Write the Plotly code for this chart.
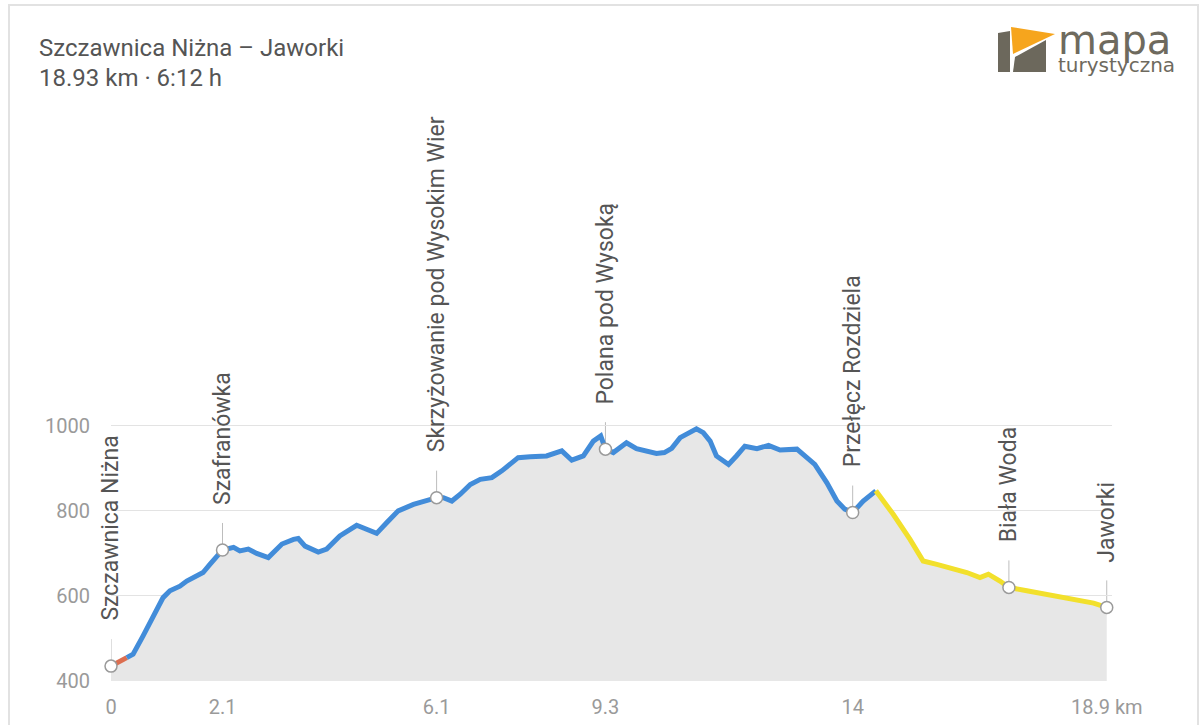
import plotly.graph_objects as go

W, H = 1201, 725

# ---------------- data ----------------
TITLE = "Szczawnica Niżna – Jaworki"
SUBTITLE = "18.93 km · 6:12 h"
LOGO_TOP = "mapa"
LOGO_BOTTOM = "turystyczna"

km = [0.00, 0.30, 0.42, 0.61, 0.80, 0.99, 1.12, 1.31, 1.44, 1.63, 1.75, 1.88, 2.12,
      2.33, 2.45, 2.61, 2.77, 2.99, 3.06, 3.25, 3.47, 3.56, 3.69, 3.94, 4.10, 4.35,
      4.67, 4.86, 5.05, 5.24, 5.46, 5.75, 6.00, 6.19, 6.32, 6.48, 6.64, 6.83, 7.02,
      7.24, 7.43, 7.74, 7.97, 8.28, 8.57, 8.76, 8.98, 9.17, 9.31, 9.40, 9.55, 9.80,
      9.99, 10.18, 10.37, 10.52, 10.66, 10.82, 10.98, 11.13, 11.26, 11.39, 11.51,
      11.74, 11.89, 12.05, 12.28, 12.50, 12.72, 13.04, 13.23, 13.38, 13.61, 13.80,
      13.95, 14.10, 14.30, 14.54, 14.87, 15.19, 15.44, 15.70, 15.95, 16.27, 16.52,
      16.68, 16.90, 17.07, 17.41, 17.73, 18.04, 18.36, 18.68, 18.93]
elev = [435, 455, 463, 506, 553, 596, 612, 623, 635, 647, 655, 674, 708,
        714, 706, 710, 700, 690, 698, 722, 733, 735, 717, 703, 710, 741,
        766, 757, 747, 772, 800, 815, 825, 831, 831, 823, 839, 862, 874,
        878, 894, 925, 927, 929, 941, 919, 929, 964, 976, 945, 937, 960,
        946, 941, 935, 937, 947, 972, 984, 993, 984, 964, 929,
        909, 929, 952, 946, 954, 943, 945, 925, 909, 866, 823,
        804, 796, 823, 847, 792, 733, 682, 674, 666, 655, 643,
        651, 635, 620, 612, 604, 596, 588, 583, 573]

# coloured trail segments: (start km, end km, colour)
seg_start = [0.00, 0.30, 14.54]
seg_end = [0.30, 14.54, 18.93]
seg_color = ["#dc6e50", "#428cd9", "#f2e02c"]

wp_name = ["Szczawnica Niżna", "Szafranówka", "Skrzyżowanie pod Wysokim Wier",
           "Polana pod Wysoką", "Przełęcz Rozdziela", "Biała Woda", "Jaworki"]
wp_km = [0.00, 2.12, 6.19, 9.40, 14.10, 17.07, 18.93]
wp_elev = [435, 708, 831, 945, 796, 620, 573]

tick_km = [0.00, 2.12, 6.19, 9.40, 14.10, 18.93]
tick_text = ["0", "2.1", "6.1", "9.3", "14", "18.9 km"]
y_ticks = [400, 600, 800, 1000]

# ---------------- geometry ----------------
PX_PER_M = 0.4254
Y_BOTTOM_PX = 681
Y_TOP_PX = 90
X_LEFT_PX, X_RIGHT_PX = 111, 1112
X_MAX = 19.03
y_max = 400 + (Y_BOTTOM_PX - Y_TOP_PX) / PX_PER_M
CONNECT_M = 27 / PX_PER_M

FONT = "Roboto"

fig = go.Figure()

# grey area under profile
fig.add_trace(go.Scatter(x=km, y=elev, mode="lines", line=dict(width=0),
                         fill="tozeroy", fillcolor="#e7e7e7", hoverinfo="skip",
                         showlegend=False))

# coloured segments
for s, e, c in zip(seg_start, seg_end, seg_color):
    xs = [k for k in km if s - 1e-9 <= k <= e + 1e-9]
    ys = [v for k, v in zip(km, elev) if s - 1e-9 <= k <= e + 1e-9]
    fig.add_trace(go.Scatter(x=xs, y=ys, mode="lines",
                             line=dict(color=c, width=5, shape="linear"),
                             showlegend=False, cliponaxis=False))

shapes = []
annotations = []
interior_ticks = set(tick_km[1:-1])
for name, k, e in zip(wp_name, wp_km, wp_elev):
    y0 = 400 if k in interior_ticks else e
    shapes.append(dict(type="line", xref="x", yref="y", x0=k, x1=k, y0=y0,
                       y1=e + CONNECT_M, line=dict(color="#bdbdbd", width=1),
                       layer="below"))
    annotations.append(dict(x=k, y=e, xref="x", yref="y", text=name, showarrow=False,
                            textangle=-90, xanchor="center", yanchor="bottom",
                            yshift=43, font=dict(family=FONT, size=23, color="#555555")))

# waypoint markers
fig.add_trace(go.Scatter(x=wp_km, y=wp_elev, mode="markers",
                         marker=dict(size=12, color="white",
                                     line=dict(color="#9a9a9a", width=1.5)),
                         showlegend=False, cliponaxis=False))

# card border
shapes.append(dict(type="rect", xref="paper", yref="paper", x0=9 / W, x1=1198 / W,
                   y0=-0.02, y1=1 - 5 / H, line=dict(color="#e2e2e2", width=2),
                   layer="below"))


def px(x):
    return x / W


def py(y):
    return 1 - y / H


# logo icon
def path(pts):
    return "M " + " L ".join(f"{px(a)},{py(b)}" for a, b in pts) + " Z"


shapes.append(dict(type="path", xref="paper", yref="paper",
                   path=path([(998, 33), (1010, 31), (1010, 72), (998, 72)]),
                   fillcolor="#6c685c", line=dict(width=0)))
shapes.append(dict(type="path", xref="paper", yref="paper",
                   path=path([(1015, 57), (1046, 40), (1046, 72), (1013, 72)]),
                   fillcolor="#6c685c", line=dict(width=0)))
shapes.append(dict(type="path", xref="paper", yref="paper",
                   path=path([(1011, 27), (1055, 34), (1013, 54)]),
                   fillcolor="#f6a51d", line=dict(width=0)))

logo_text = (f"<span style='font-size:40px'>{LOGO_TOP}</span><br>"
             f"<span style='font-size:20px'>{LOGO_BOTTOM}</span>")

annotations += [
    dict(x=px(37), y=py(48), xref="paper", yref="paper", text=TITLE, showarrow=False,
         xanchor="left", yanchor="middle",
         font=dict(family=FONT, size=24, color="#555555")),
    dict(x=px(37), y=py(78), xref="paper", yref="paper", text=SUBTITLE, showarrow=False,
         xanchor="left", yanchor="middle",
         font=dict(family=FONT, size=24, color="#555555")),
    dict(x=px(1056), y=py(47), xref="paper", yref="paper", text=logo_text,
         showarrow=False, xanchor="left", yanchor="middle", align="left",
         font=dict(family="DejaVu Sans", size=14, color="#6e6a5e")),
]

fig.update_layout(
    width=W, height=H,
    margin=dict(l=0, r=0, t=0, b=0),
    paper_bgcolor="white", plot_bgcolor="white",
    shapes=shapes, annotations=annotations,
    xaxis=dict(domain=[X_LEFT_PX / W, X_RIGHT_PX / W], range=[0, X_MAX],
               tickvals=tick_km, ticktext=tick_text, showgrid=False, zeroline=False,
               showline=False, ticks="", ticklabelstandoff=12, automargin=False,
               tickfont=dict(family=FONT, size=20, color="#9a9a9a")),
    yaxis=dict(domain=[(H - Y_BOTTOM_PX) / H, (H - Y_TOP_PX) / H], range=[400, y_max],
               tickvals=y_ticks, showgrid=True, gridcolor="#e3e3e3", gridwidth=1,
               zeroline=False, showline=False, ticks="", ticklabelstandoff=20,
               automargin=False,
               tickfont=dict(family=FONT, size=20, color="#9a9a9a")),
    showlegend=False,
)

fig.write_html("out.html", config={"displayModeBar": False},
               post_script="document.body.style.margin='0';")
